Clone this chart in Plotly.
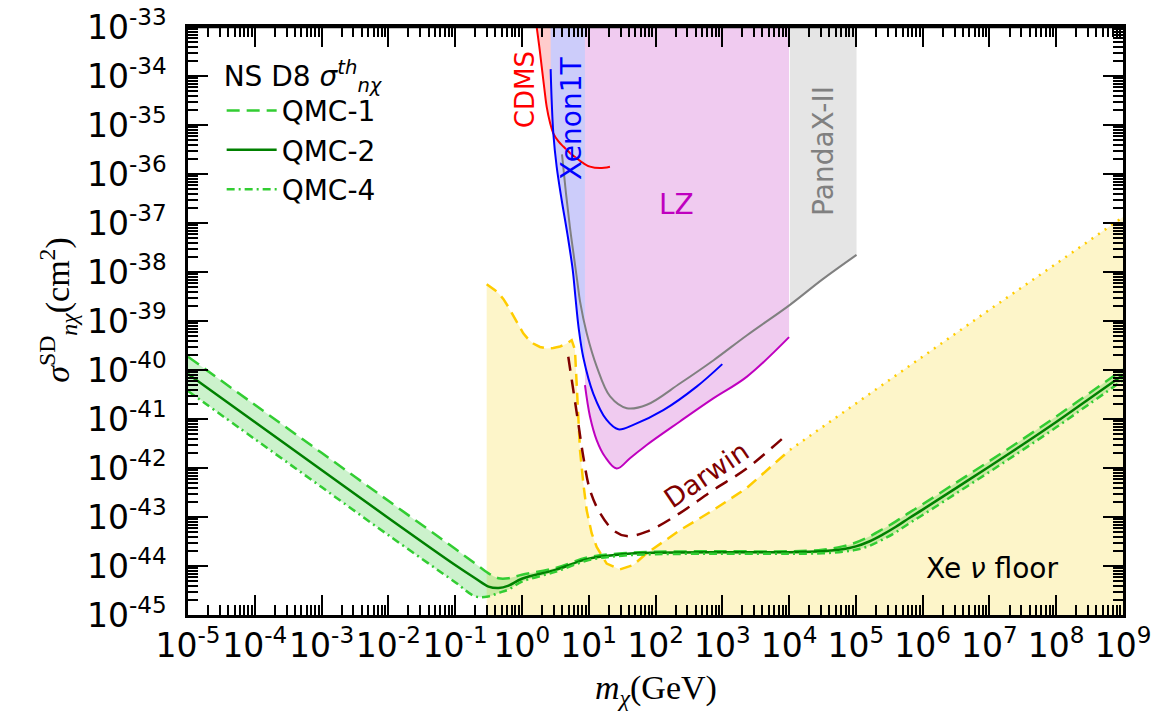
import plotly.graph_objects as go

# ---------------- data (log10 m_chi [GeV], log10 sigma [cm^2]) ----------------
qmc_log_m = [-5, -4, -3, -2, -1, -0.7, -0.5, -0.35, -0.2, 0, 0.5, 1.0, 1.5, 2, 3, 4,
             4.5, 4.8, 5.0, 5.2, 5.4, 5.6, 5.8, 6.0, 6.5, 7.0, 7.5, 8.0, 8.5, 9.0]
qmc1_log_sigma = [-39.73, -40.71, -41.69, -42.67, -43.65, -43.95, -44.15, -44.25, -44.25, -44.18,
                  -44.04, -43.82, -43.74, -43.71, -43.70, -43.70, -43.67, -43.60, -43.52, -43.40,
                  -43.25, -43.09, -42.91, -42.74, -42.30, -41.86, -41.41, -40.95, -40.47, -39.99]
qmc2_log_sigma = [-40.08, -41.06, -42.04, -43.02, -43.98, -44.25, -44.42, -44.45, -44.40, -44.26,
                  -44.08, -43.85, -43.76, -43.73, -43.72, -43.72, -43.70, -43.66, -43.60, -43.50,
                  -43.36, -43.20, -43.02, -42.85, -42.41, -41.97, -41.52, -41.06, -40.58, -40.10]
qmc4_log_sigma = [-40.43, -41.41, -42.39, -43.37, -44.33, -44.62, -44.62, -44.55, -44.48, -44.32,
                  -44.12, -43.88, -43.79, -43.76, -43.75, -43.75, -43.74, -43.71, -43.67, -43.59,
                  -43.46, -43.31, -43.13, -42.96, -42.52, -42.08, -41.63, -41.17, -40.69, -40.21]

floor_log_m = [-0.528, -0.45, -0.403, -0.34, -0.279, -0.2, -0.129, -0.05, 0.02, 0.1, 0.17, 0.27,
               0.371, 0.47, 0.57, 0.66, 0.745, 0.794, 0.829, 0.869, 0.919, 0.969, 1.044, 1.119,
               1.269, 1.468, 1.668, 1.868, 2.366, 2.865, 3.365, 4.013]
floor_log_sigma = [-38.25, -38.32, -38.37, -38.45, -38.55, -38.72, -38.90, -39.08, -39.25, -39.38,
                   -39.46, -39.53, -39.56, -39.55, -39.52, -39.47, -39.39, -39.59, -40.61, -41.63,
                   -42.31, -42.86, -43.33, -43.61, -43.95, -44.07, -43.98, -43.74, -43.27, -42.86,
                   -42.41, -41.63]
floor_dot_log_m = [4.013, 5.0, 6.0, 7.0, 8.0, 9.0]
floor_dot_log_sigma = [-41.63, -40.68, -39.72, -38.77, -37.83, -36.88]

darwin_log_m = [0.694, 0.769, 0.844, 0.919, 1.019, 1.169, 1.369, 1.568, 1.868, 2.366, 2.865, 3.365, 3.99]
darwin_log_sigma = [-39.73, -40.41, -41.09, -41.77, -42.45, -42.92, -43.27, -43.39, -43.30, -42.92,
                    -42.45, -42.01, -41.29]

cdms_log_m = [0.20, 0.221, 0.26, 0.296, 0.335, 0.371, 0.42, 0.47, 0.55, 0.62, 0.72, 0.82, 0.92,
              1.019, 1.169, 1.318]
cdms_log_sigma = [-32.75, -33.0, -33.4, -33.81, -34.25, -34.63, -34.95, -35.17, -35.34, -35.44,
                  -35.57, -35.68, -35.78, -35.85, -35.88, -35.85]

xenon_log_m = [0.43, 0.445, 0.47, 0.52, 0.595, 0.679, 0.76, 0.80, 0.85, 0.92, 1.068, 1.269, 1.443,
               1.668, 2.117, 2.616, 3.0]
xenon_log_sigma = [-33.86, -34.49, -35.17, -35.85, -36.53, -37.21, -37.95, -38.5, -39.15, -39.75,
                   -40.48, -41.02, -41.21, -41.12, -40.82, -40.34, -39.88]

panda_log_m = [0.6, 0.66, 0.72, 0.78, 0.83, 0.87, 0.97, 1.12, 1.32, 1.57, 1.87, 2.37, 2.87, 3.37,
               4.013, 4.5, 5.01]
panda_log_sigma = [-35.6, -36.4, -37.1, -37.7, -38.2, -38.6, -39.25, -39.93, -40.54, -40.78, -40.71,
                   -40.27, -39.8, -39.29, -38.67, -38.15, -37.65]

lz_log_m = [0.944, 1.019, 1.119, 1.244, 1.419, 1.618, 1.868, 2.366, 2.865, 3.365, 4.0]
lz_log_sigma = [-40.31, -40.95, -41.43, -41.77, -42.01, -41.80, -41.53, -41.05, -40.58, -40.14, -39.33]

x_tick_exp = list(range(-5, 10))
y_tick_exp = list(range(-45, -32))


def p10(a):
    return [10.0 ** v for v in a]


TOP = -32.0
BOTTOM = -46.0

fig = go.Figure()

# ---------------- filled regions ----------------
fx = [floor_log_m[0]] + floor_log_m + floor_dot_log_m[1:] + [floor_dot_log_m[-1]]
fy = [BOTTOM] + floor_log_sigma + floor_dot_log_sigma[1:] + [BOTTOM]
fig.add_trace(go.Scatter(x=p10(fx), y=p10(fy), fill="toself", fillcolor="#fdf5c9",
                         mode="lines", line=dict(width=0), showlegend=False, hoverinfo="skip"))

cx = cdms_log_m + [cdms_log_m[-1], cdms_log_m[0]]
cy = cdms_log_sigma + [TOP, TOP]
fig.add_trace(go.Scatter(x=p10(cx), y=p10(cy), fill="toself", fillcolor="#ffcccc",
                         mode="lines", line=dict(width=0), showlegend=False, hoverinfo="skip"))

xi = [i for i, v in enumerate(xenon_log_m) if v <= 0.95]
xx = [xenon_log_m[i] for i in xi] + [0.944, 0.944, xenon_log_m[0]]
xy = [xenon_log_sigma[i] for i in xi] + [-39.8, TOP, TOP]
fig.add_trace(go.Scatter(x=p10(xx), y=p10(xy), fill="toself", fillcolor="#ccccfa",
                         mode="lines", line=dict(width=0), showlegend=False, hoverinfo="skip"))

lx = lz_log_m + [lz_log_m[-1], lz_log_m[0]]
ly = lz_log_sigma + [TOP, TOP]
fig.add_trace(go.Scatter(x=p10(lx), y=p10(ly), fill="toself", fillcolor="#f0cbf0",
                         mode="lines", line=dict(width=0), showlegend=False, hoverinfo="skip"))

pi_ = [i for i, v in enumerate(panda_log_m) if v >= 4.0]
px_ = [panda_log_m[i] for i in pi_] + [panda_log_m[-1], panda_log_m[pi_[0]]]
py_ = [panda_log_sigma[i] for i in pi_] + [TOP, TOP]
fig.add_trace(go.Scatter(x=p10(px_), y=p10(py_), fill="toself", fillcolor="#e5e5e5",
                         mode="lines", line=dict(width=0), showlegend=False, hoverinfo="skip"))

fig.add_trace(go.Scatter(x=p10(qmc_log_m), y=p10(qmc4_log_sigma), mode="lines",
                         line=dict(width=0, shape="spline"), showlegend=False, hoverinfo="skip"))
fig.add_trace(go.Scatter(x=p10(qmc_log_m), y=p10(qmc1_log_sigma), mode="lines", fill="tonexty",
                         fillcolor="rgba(50,205,50,0.25)",
                         line=dict(width=0, shape="spline"), showlegend=False, hoverinfo="skip"))

# ---------------- lines ----------------
fig.add_trace(go.Scatter(x=p10(floor_log_m), y=p10(floor_log_sigma), mode="lines",
                         line=dict(color="#ffcc00", width=2.5, dash="12px,7px"),
                         showlegend=False, hoverinfo="skip"))
fig.add_trace(go.Scatter(x=p10(floor_dot_log_m), y=p10(floor_dot_log_sigma), mode="lines",
                         line=dict(color="#ffcc00", width=2.5, dash="2px,6px"),
                         showlegend=False, hoverinfo="skip"))
fig.add_trace(go.Scatter(x=p10(darwin_log_m), y=p10(darwin_log_sigma), mode="lines",
                         line=dict(color="#800000", width=2.5, dash="14px,9px", shape="spline"),
                         showlegend=False, hoverinfo="skip"))
fig.add_trace(go.Scatter(x=p10(cdms_log_m), y=p10(cdms_log_sigma), mode="lines",
                         line=dict(color="#ff0000", width=2, shape="spline"),
                         showlegend=False, hoverinfo="skip"))
fig.add_trace(go.Scatter(x=p10(panda_log_m), y=p10(panda_log_sigma), mode="lines",
                         line=dict(color="#808080", width=2, shape="spline"),
                         showlegend=False, hoverinfo="skip"))
fig.add_trace(go.Scatter(x=p10(xenon_log_m), y=p10(xenon_log_sigma), mode="lines",
                         line=dict(color="#0000ff", width=2, shape="spline"),
                         showlegend=False, hoverinfo="skip"))
fig.add_trace(go.Scatter(x=p10(lz_log_m), y=p10(lz_log_sigma), mode="lines",
                         line=dict(color="#bf00bf", width=2, shape="spline"),
                         showlegend=False, hoverinfo="skip"))

fig.add_trace(go.Scatter(x=p10(qmc_log_m), y=p10(qmc1_log_sigma), mode="lines", name="QMC-1",
                         line=dict(color="#32cd32", width=2.5, dash="13px,7px", shape="spline")))
fig.add_trace(go.Scatter(x=p10(qmc_log_m), y=p10(qmc2_log_sigma), mode="lines", name="QMC-2",
                         line=dict(color="#008000", width=2.5, shape="spline")))
fig.add_trace(go.Scatter(x=p10(qmc_log_m), y=p10(qmc4_log_sigma), mode="lines", name="QMC-4",
                         line=dict(color="#32cd32", width=2.5, dash="8px,4px,2px,4px", shape="spline")))

# ---------------- axes ----------------
minor_x = [k * 10.0 ** e for e in range(-5, 9) for k in range(2, 10)]
minor_y = [k * 10.0 ** e for e in range(-45, -33) for k in range(2, 10)]

tickfont = dict(family="DejaVu Sans", size=33, color="black")
fig.update_xaxes(type="log", range=[-5, 9], showgrid=False, zeroline=False, automargin=False,
                 showline=True, linecolor="black", linewidth=2.5, mirror="allticks",
                 ticks="inside", ticklen=20, tickwidth=2, tickcolor="black",
                 tickmode="array", tickvals=[10.0 ** e for e in x_tick_exp],
                 ticktext=["10<sup>%d</sup>" % e for e in x_tick_exp],
                 tickangle=0, tickfont=tickfont, ticklabeloverflow="allow",
                 minor=dict(ticks="inside", ticklen=10, tickwidth=1.5, tickcolor="black",
                            tickmode="array", tickvals=minor_x, showgrid=False))
fig.update_yaxes(type="log", range=[-45, -33], showgrid=False, zeroline=False, automargin=False,
                 showline=True, linecolor="black", linewidth=2.5, mirror="allticks",
                 ticks="inside", ticklen=20, tickwidth=2, tickcolor="black",
                 tickmode="array", tickvals=[10.0 ** e for e in y_tick_exp],
                 ticktext=["10<sup>%d</sup>" % e for e in y_tick_exp],
                 tickfont=tickfont, ticklabelstandoff=12, ticklabeloverflow="allow",
                 minor=dict(ticks="inside", ticklen=10, tickwidth=1.5, tickcolor="black",
                            tickmode="array", tickvals=minor_y, showgrid=False))

# ---------------- labels ----------------
lab = dict(family="DejaVu Sans", size=28)
annots = [
    dict(x=0.046, y=-34.29, text="CDMS", textangle=-90, font=dict(lab, size=26, color="#ff0000")),
    dict(x=0.734, y=-34.86, text="Xenon1T", textangle=-90, font=dict(lab, color="#0000ff")),
    dict(x=4.522, y=-35.53, text="PandaX-II", textangle=-90, font=dict(lab, color="#808080")),
    dict(x=2.321, y=-36.63, text="LZ", textangle=0, font=dict(lab, color="#bf00bf")),
    dict(x=2.766, y=-42.14, text="Darwin", textangle=-34, font=dict(lab, size=27, color="#800000")),
    dict(x=7.053, y=-44.06, text="Xe <i>ν</i> floor", textangle=0, font=dict(lab, color="black")),
]
for a in annots:
    a.update(xref="x", yref="y", showarrow=False, xanchor="center", yanchor="middle")

serif = dict(family="Liberation Serif", size=34, color="black")
annots.append(dict(xref="paper", yref="paper", x=0.5, y=-0.1276, xanchor="center", yanchor="middle",
                   showarrow=False, text="<i>m</i><sub><i>χ</i></sub>(GeV)", font=serif))
annots.append(dict(xref="paper", yref="paper", x=-0.139, y=0.519, xanchor="center", yanchor="middle",
                   showarrow=False, textangle=-90,
                   text="<i>σ</i><sup>SD</sup><sub><i>nχ</i></sub>(cm<sup>2</sup>)", font=serif))

# upper frame edge, drawn as a shape on top of everything
frame_shapes = [
    dict(type="line", xref="paper", yref="paper", x0=0, x1=1, y0=1, y1=1,
         line=dict(color="black", width=2.5), layer="above"),
]

fig.update_layout(
    width=1173, height=715,
    margin=dict(l=188, r=50, t=27, b=100, pad=0),
    plot_bgcolor="white", paper_bgcolor="white",
    annotations=annots,
    shapes=frame_shapes,
    legend=dict(x=0.036, y=0.962, xanchor="left", yanchor="top", bgcolor="rgba(0,0,0,0)",
                traceorder="normal",
                font=dict(family="DejaVu Sans", size=28, color="black"),
                title=dict(text="NS D8 <i>σ</i><sup><i>th</i></sup><sub><i>nχ</i></sub>",
                           font=dict(family="DejaVu Sans", size=28, color="black")),
                itemwidth=50, tracegroupgap=0),
)

fig.write_html("out.html", config={"displayModeBar": False},
               post_script="document.body.style.margin='0px';document.body.style.overflow='hidden';")
